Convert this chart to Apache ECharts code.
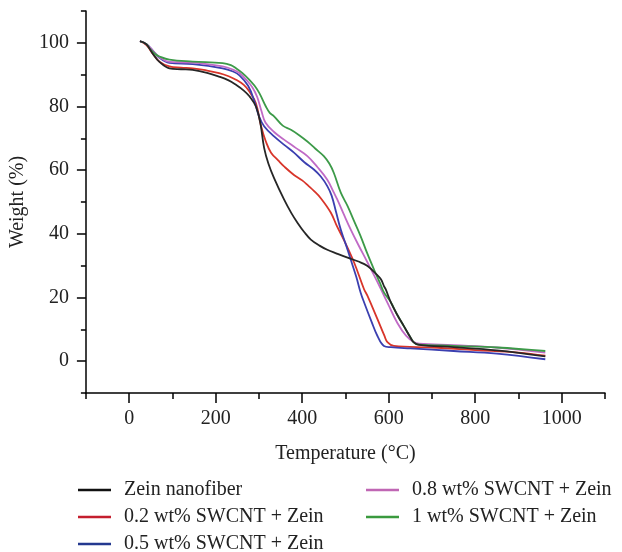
<!DOCTYPE html>
<html>
<head>
<meta charset="utf-8">
<script src="https://cdn.jsdelivr.net/npm/echarts@6/dist/echarts.min.js"></script>
<style>html,body{margin:0;padding:0;background:#fff}#c{width:622px;height:552px}</style>
</head>
<body>
<div id="c"></div>
<script>
const seriesNames = ["Zein nanofiber","0.2 wt% SWCNT + Zein","0.5 wt% SWCNT + Zein","0.8 wt% SWCNT + Zein","1 wt% SWCNT + Zein"];
const xMajorTicks = [0,200,400,600,800,1000];
const xMinorTicks = [-100,100,300,500,700,900,1100];
const yMajorTicks = [0,20,40,60,80,100];
const yMinorTicks = [-10,10,30,50,70,90,110];

const zein = [[25,100.5],[40,99.5],[55,96.5],[70,94],[93,92],[120,91.7],[147,91.5],[180,90.6],[208,89.4],[230,88.2],[247,86.8],[265,85],[278,83.2],[293,80],[303,75],[312,67],[322,62],[335,57.5],[358,50.8],[375,46.5],[389,43.5],[405,40.5],[420,38.2],[440,36.3],[458,35],[480,33.8],[505,32.5],[530,31.3],[551,29.9],[570,27.5],[582,25.7],[589,23.6],[593,22.6],[605,18.5],[620,14.5],[635,11],[650,7.5],[658,5.9],[670,5.1],[750,4.4],[850,3.4],[962,1.5]];
const swcnt02 = [[25,100.5],[40,99.3],[55,96.5],[70,94.1],[93,92.6],[120,92.2],[147,92],[180,91.3],[208,90.5],[230,89.5],[247,88.4],[265,86.8],[278,84.7],[293,81],[305,73.8],[316,69],[328,65.5],[345,63],[358,61.2],[381,58.5],[400,56.8],[415,55],[427,53.5],[443,51.2],[466,46.7],[480,42.5],[496,38.2],[520,31],[543,22.6],[551,20.5],[574,13.2],[590,8],[597,6],[612,4.8],[700,4.3],[800,3.5],[900,2.7],[962,1.7]];
const swcnt05 = [[25,100.5],[40,99.6],[55,97.5],[70,95.3],[93,93.7],[147,93.3],[216,92],[240,91],[255,89.8],[275,86.5],[290,81.5],[300,77],[312,73.8],[335,70.6],[360,67.8],[381,65.5],[405,62.5],[427,60.2],[443,58],[458,55],[468,52],[478,47],[489,41.4],[500,37],[512,32],[525,26.5],[535,21.6],[543,18.5],[560,12.5],[574,7.9],[589,4.8],[605,4.4],[650,4],[750,3.2],[850,2.4],[962,0.6]];
const swcnt08 = [[25,100.5],[40,99.6],[55,97.5],[70,95.5],[93,94],[147,93.8],[216,92.6],[240,91.6],[255,90.5],[270,88.5],[285,86],[296,83],[306,78.5],[315,75],[335,72],[358,69.6],[385,67],[412,64.4],[435,61],[458,57],[473,53],[481,50.8],[495,46.5],[512,41.4],[530,36.5],[551,31],[566,27],[582,22.6],[600,17.5],[620,12],[640,8],[658,6],[670,5.5],[750,5],[850,4.3],[962,2.7]];
const swcnt10 = [[25,100.5],[40,99.6],[47,98.3],[60,96.5],[70,95.7],[93,94.7],[147,94.1],[216,93.6],[235,93],[247,92],[262,90.5],[278,88.4],[290,86.5],[301,84.2],[316,80],[325,78],[335,76.9],[355,74],[374,72.7],[393,71],[412,69],[430,66.8],[450,64.4],[463,62],[473,59.2],[489,53],[505,48.7],[520,44],[535,39.3],[550,34],[566,28.8],[580,24.5],[589,21.6],[605,18.5],[620,14.5],[635,11],[650,7.5],[658,5.9],[666,5.3],[750,4.8],[850,4.3],[962,3.2]];

const dataSets = [zein, swcnt02, swcnt05, swcnt08, swcnt10];
const colors = ["#262626","#d8352a","#3b3fb0","#c06ac6","#3c9a48"];
const legendColors = ["#111111","#c41e2e","#23388f","#c066b4","#3a9a3e"];

const font = "'Liberation Serif','DejaVu Serif',serif";
const chart = echarts.init(document.getElementById('c'), null, {renderer:'canvas'});

function xAxisDef(major){
  return {
    type:'value', min:-100, max:1100, position:'bottom',
    axisLine:{show:major, onZero:false, lineStyle:{color:'#000', width:1.5}},
    axisTick:{show:true, customValues: major ? xMajorTicks : xMinorTicks, length: major?10:6, inside:false, lineStyle:{color:'#000', width:1.5}},
    axisLabel:{show:major, customValues: xMajorTicks, margin:16, color:'#222', fontFamily:font, fontSize:20, formatter:(v)=>String(v)},
    splitLine:{show:false},
    name: major ? 'Temperature (°C)' : '', nameLocation:'middle', nameGap:51,
    nameTextStyle:{color:'#222', fontFamily:font, fontSize:20}
  };
}
function yAxisDef(major){
  return {
    type:'value', min:-10, max:110, position:'left',
    axisLine:{show:major, onZero:false, lineStyle:{color:'#000', width:1.5}},
    axisTick:{show:true, customValues: major ? yMajorTicks : yMinorTicks, length: major?9:5, inside:false, lineStyle:{color:'#000', width:1.5}},
    axisLabel:{show:major, customValues: yMajorTicks, margin:17, color:'#222', fontFamily:font, fontSize:20, formatter:(v)=>String(v)},
    splitLine:{show:false},
    name: major ? 'Weight (%)' : '', nameLocation:'middle', nameGap:56,
    nameTextStyle:{color:'#222', fontFamily:font, fontSize:20}
  };
}

const legendItem = (i) => ({name: seriesNames[i], itemStyle:{color: legendColors[i]}});
const legendCommon = {
  orient:'vertical', icon:'rect', itemWidth:33, itemHeight:2.5, itemGap:7, padding:0,
  height:200, width:260,
  textStyle:{color:'#222', fontFamily:font, fontSize:20, lineHeight:16, padding:[0,0,0,8]},
  selectedMode:false
};

chart.setOption({
  animation:false,
  backgroundColor:'#fff',
  grid:{left:85, right:17, top:11, bottom:159, containLabel:false},
  xAxis:[xAxisDef(true), xAxisDef(false)],
  yAxis:[yAxisDef(true), yAxisDef(false)],
  legend:[
    Object.assign({left:78, top:480, data:[0,1,2].map(legendItem)}, legendCommon),
    Object.assign({left:366, top:480, data:[3,4].map(legendItem)}, legendCommon)
  ],
  series: dataSets.map((d,i)=>({
    name: seriesNames[i], type:'line', data:d, xAxisIndex:0, yAxisIndex:0,
    showSymbol:false, symbol:'none', smooth:0.4,
    lineStyle:{color:colors[i], width:1.8}, itemStyle:{color:colors[i]}, z: i===0?3:2
  }))
});
</script>
</body>
</html>
